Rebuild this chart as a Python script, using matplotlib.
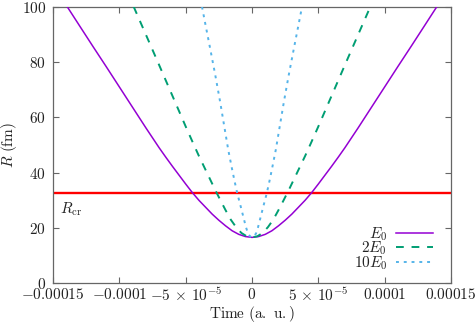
import matplotlib
matplotlib.use("Agg")
import matplotlib.pyplot as plt
from matplotlib.ticker import FixedLocator, FixedFormatter

plt.rcParams['mathtext.fontset'] = 'cm'
plt.rcParams['font.family'] = 'serif'
plt.rcParams['font.serif'] = ['DejaVu Serif']
plt.rcParams['font.size'] = 11

# time (a. u.) and radius R (fm)
t_e1 = [-13.93e-5, -13.0e-5, -12.0e-5, -11.0e-5, -10.0e-5, -9.0e-5, -8.0e-5, -7.5e-5,
        -7.0e-5, -6.5e-5, -6.0e-5, -5.5e-5, -5.0e-5, -4.5e-5, -4.0e-5, -3.5e-5, -3.0e-5,
        -2.5e-5, -2.0e-5, -1.5e-5, -1.0e-5, -0.5e-5, 0.0,
        0.5e-5, 1.0e-5, 1.5e-5, 2.0e-5, 2.5e-5, 3.0e-5, 3.5e-5, 4.0e-5, 4.5e-5,
        5.0e-5, 5.5e-5, 6.0e-5, 6.5e-5, 7.0e-5, 7.5e-5, 8.0e-5, 9.0e-5, 10.0e-5,
        11.0e-5, 12.0e-5, 13.0e-5, 13.93e-5]
r_e1 = [100.0, 93.1, 85.7, 78.4, 71.0, 63.6, 56.2, 52.6,
        49.0, 45.6, 42.3, 39.1, 35.9, 32.8, 30.0, 27.5, 25.0,
        22.8, 20.8, 19.0, 17.7, 16.9, 16.6,
        16.9, 17.7, 19.0, 20.8, 22.8, 25.0, 27.5, 30.0, 32.8,
        35.9, 39.1, 42.3, 45.6, 49.0, 52.6, 56.2, 63.6, 71.0,
        78.4, 85.7, 93.1, 100.0]

t_e2 = [-8.92e-5, -8.0e-5, -7.0e-5, -6.0e-5, -5.0e-5, -4.5e-5, -4.0e-5, -3.6e-5,
        -3.2e-5, -2.8e-5, -2.4e-5, -2.0e-5, -1.6e-5, -1.2e-5, -0.8e-5, -0.4e-5, 0.0,
        0.4e-5, 0.8e-5, 1.2e-5, 1.6e-5, 2.0e-5, 2.4e-5, 2.8e-5, 3.2e-5, 3.6e-5,
        4.0e-5, 4.5e-5, 5.0e-5, 6.0e-5, 7.0e-5, 8.0e-5, 8.92e-5]
r_e2 = [100.0, 89.9, 78.9, 67.8, 56.7, 51.3, 46.0, 42.0,
        38.0, 34.0, 30.2, 26.5, 23.0, 20.3, 18.2, 17.0, 16.6,
        17.0, 18.2, 20.3, 23.0, 26.5, 30.2, 34.0, 38.0, 42.0,
        46.0, 51.3, 56.7, 67.8, 78.9, 89.9, 100.0]

t_e10 = [-3.77e-5, -3.5e-5, -3.2e-5, -2.77e-5, -2.41e-5, -2.1e-5, -1.79e-5, -1.5e-5,
         -1.3e-5, -1.11e-5, -1.0e-5, -0.8e-5, -0.6e-5, -0.45e-5, -0.3e-5, -0.15e-5, 0.0,
         0.15e-5, 0.3e-5, 0.45e-5, 0.6e-5, 0.8e-5, 1.0e-5, 1.11e-5, 1.3e-5, 1.5e-5,
         1.79e-5, 2.1e-5, 2.41e-5, 2.77e-5, 3.2e-5, 3.5e-5, 3.77e-5]
r_e10 = [100.0, 93.3, 86.0, 75.3, 65.8, 57.0, 48.2, 41.2,
         36.6, 32.5, 30.5, 26.8, 23.0, 20.2, 18.0, 17.0, 16.6,
         17.0, 18.0, 20.2, 23.0, 26.8, 30.5, 32.5, 36.6, 41.2,
         48.2, 57.0, 65.8, 75.3, 86.0, 93.3, 100.0]

r_cr = 32.5

xticks = [-0.00015, -0.0001, -5e-5, 0, 5e-5, 0.0001, 0.00015]
xtick_labels = [r"$-0.00015$", r"$-0.0001$", r"$-5\,\times\,10^{-5}$", r"$0$",
                r"$5\,\times\,10^{-5}$", r"$0.0001$", r"$0.00015$"]
yticks = [0, 20, 40, 60, 80, 100]
ytick_labels = [r"$%d$" % v for v in yticks]

fig = plt.figure(figsize=(4.75, 3.23), dpi=100)
ax = fig.add_axes([0.1116, 0.1229, 0.8379, 0.8564])

ax.axhline(r_cr, color='#ff0000', lw=1.7, zorder=1)
ax.plot(t_e1, r_e1, color='#9400d3', lw=1.1, label=r"$E_0$", zorder=3)
ax.plot(t_e2, r_e2, color='#009e73', lw=1.4, ls=(0, (4, 4)), label=r"$2E_0$", zorder=3)
ax.plot(t_e10, r_e10, color='#56b4e9', lw=1.4, ls=(0, (1.5, 2.5)), label=r"$10E_0$", zorder=3)

ax.text(-14.5e-5, 26.8, r"$R_{\rm cr}$", va='center', ha='left', color='#222222')

ax.set_xlim(-0.00015, 0.00015)
ax.set_ylim(0, 100)
ax.xaxis.set_major_locator(FixedLocator(xticks))
ax.xaxis.set_major_formatter(FixedFormatter(xtick_labels))
ax.yaxis.set_major_locator(FixedLocator(yticks))
ax.yaxis.set_major_formatter(FixedFormatter(ytick_labels))
ax.tick_params(direction='in', top=True, right=True, length=4, width=0.8,
               color='#666666', labelcolor='#222222', pad=5)
ax.tick_params(axis='x', pad=2.5)
for s in ax.spines.values():
    s.set_color('#666666')
    s.set_linewidth(0.9)

ax.set_xlabel(r"$\mathrm{Time\ (a.\ u.)}$", color='#222222', labelpad=0)
ax.set_ylabel(r"$R\ \mathrm{(fm)}$", color='#222222', labelpad=2)

leg = ax.legend(loc='lower right', bbox_to_anchor=(0.97, 0.02), frameon=False,
                markerfirst=False, handlelength=2.4, handletextpad=0.6,
                labelspacing=-0.2, borderaxespad=0)
for txt in leg.get_texts():
    txt.set_color('#222222')

fig.savefig("out.png", dpi=100)
